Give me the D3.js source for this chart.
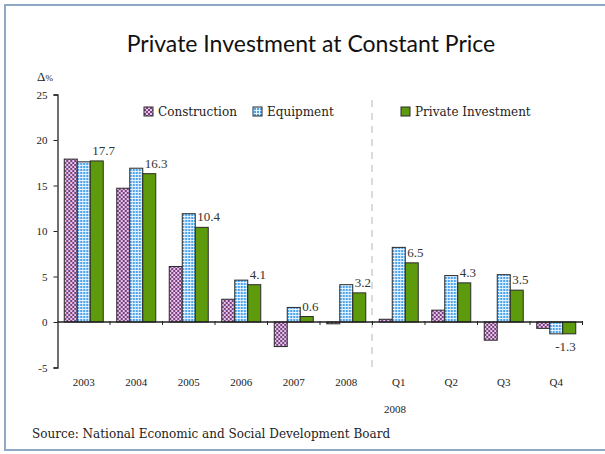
<!DOCTYPE html>
<html>
<head>
<meta charset="utf-8">
<script src="https://cdn.jsdelivr.net/npm/d3@7"></script>
<style>
  body { margin: 0; background: #fff; }
  svg { display: block; }
</style>
</head>
<body>
<svg id="chart" width="605" height="454"></svg>
<script>
// data
var categories = ["2003", "2004", "2005", "2006", "2007", "2008", "Q1", "Q2", "Q3", "Q4"];
var seriesNames = ["Construction", "Equipment", "Private Investment"];
var construction = [17.9, 14.7, 6.1, 2.5, -2.7, -0.2, 0.3, 1.3, -2.0, -0.7];
var equipment = [17.6, 16.9, 11.9, 4.6, 1.6, 4.1, 8.2, 5.1, 5.2, -1.3];
var privateInv = [17.7, 16.3, 10.4, 4.1, 0.6, 3.2, 6.5, 4.3, 3.5, -1.3];
var yTicks = [-5, 0, 5, 10, 15, 20, 25];

var svg = d3.select("svg#chart"),
    width = +svg.attr("width"),
    height = +svg.attr("height");

// plain hyphen for negatives, like the original
var fmt1 = v => v.toFixed(1);

// outer frame
svg.append("rect")
    .attr("x", 5).attr("y", 5)
    .attr("width", 610).attr("height", 445)
    .attr("fill", "#fff")
    .attr("stroke", "#8fa9c4")
    .attr("stroke-width", 2);

// patterns
var defs = svg.append("defs");
var pc = defs.append("pattern").attr("id", "patC")
    .attr("patternUnits", "userSpaceOnUse").attr("width", 4).attr("height", 4);
pc.append("rect").attr("width", 4).attr("height", 4).attr("fill", "#7a3f80");
pc.append("rect").attr("x", 0).attr("y", 0).attr("width", 2).attr("height", 2).attr("fill", "#e3c6e6");
pc.append("rect").attr("x", 2).attr("y", 2).attr("width", 2).attr("height", 2).attr("fill", "#e3c6e6");

var pe = defs.append("pattern").attr("id", "patE")
    .attr("patternUnits", "userSpaceOnUse").attr("width", 3).attr("height", 3);
pe.append("rect").attr("width", 3).attr("height", 3).attr("fill", "#4aa3ec");
pe.append("rect").attr("x", 0).attr("y", 0).attr("width", 3).attr("height", 1).attr("fill", "#e4f2fd");
pe.append("rect").attr("x", 0).attr("y", 0).attr("width", 1).attr("height", 3).attr("fill", "#e4f2fd");

var fills = ["url(#patC)", "url(#patE)", "#5d9a0c"];

// title
svg.append("text")
    .attr("x", 311).attr("y", 52)
    .attr("text-anchor", "middle")
    .style("font-family", "Lato, 'Open Sans', sans-serif")
    .style("font-size", "23px")
    .attr("fill", "#111")
    .text("Private Investment at Constant Price");

// scales
var x = d3.scaleBand()
    .domain(categories)
    .range([57.5, 582.5]);

var x1 = d3.scaleBand()
    .domain(seriesNames)
    .range([0, 39]);

var y = d3.scaleLinear()
    .domain([-5, 25])
    .range([367.5, 94.5]);

var groupOffset = (x.bandwidth() - 39) / 2;

// dashed divider between years and quarters
svg.append("line")
    .attr("x1", x("Q1") - 0.5).attr("x2", x("Q1") - 0.5)
    .attr("y1", 100).attr("y2", 368)
    .attr("stroke", "#c4c4c4")
    .attr("stroke-width", 1.2)
    .attr("stroke-dasharray", "7,6");

// y axis
var yAxis = svg.append("g")
    .attr("transform", "translate(57.5,0)")
    .call(d3.axisLeft(y).tickValues(yTicks).tickSize(4).tickPadding(6).tickFormat(d => String(d)));
yAxis.select(".domain").attr("stroke", "#222").attr("stroke-width", 1.3);
yAxis.selectAll(".tick line").attr("stroke", "#222");
yAxis.selectAll("text")
    .attr("fill", "#222")
    .style("font-family", "'Liberation Serif', serif")
    .style("font-size", "11px");

svg.append("text")
    .attr("x", 37).attr("y", 81)
    .style("font-family", "'Liberation Serif', serif")
    .attr("fill", "#222")
    .call(t => {
        t.append("tspan").style("font-size", "13px").text("Δ");
        t.append("tspan").style("font-size", "9px").text("%");
    });

// bars
var rows = categories.map((c, i) => ({
    cat: c,
    vals: [construction[i], equipment[i], privateInv[i]]
}));

var groups = svg.selectAll("g.grp")
    .data(rows)
    .enter()
    .append("g")
    .attr("class", "grp")
    .attr("transform", d => "translate(" + (x(d.cat) + groupOffset) + ",0)");

groups.selectAll("rect")
    .data(d => d.vals.map((v, j) => ({ name: seriesNames[j], v: v, j: j })))
    .enter()
    .append("rect")
    .attr("x", d => x1(d.name))
    .attr("y", d => y(Math.max(0, d.v)))
    .attr("width", x1.bandwidth())
    .attr("height", d => Math.abs(y(d.v) - y(0)))
    .attr("fill", d => fills[d.j])
    .attr("stroke", "#2a2a2a")
    .attr("stroke-width", 1);

// x axis line + ticks at band boundaries
svg.append("line")
    .attr("x1", 57.5).attr("x2", 582.5)
    .attr("y1", y(0)).attr("y2", y(0))
    .attr("stroke", "#222").attr("stroke-width", 1.3);

svg.selectAll("line.xt")
    .data(categories.slice(1).concat(["end"]))
    .enter()
    .append("line")
    .attr("class", "xt")
    .attr("x1", d => d === "end" ? 582.5 : x(d))
    .attr("x2", d => d === "end" ? 582.5 : x(d))
    .attr("y1", y(0) - 1).attr("y2", y(0) + 3)
    .attr("stroke", "#222");

svg.selectAll("text.xl")
    .data(categories)
    .enter()
    .append("text")
    .attr("class", "xl")
    .attr("x", d => x(d) + x.bandwidth() / 2)
    .attr("y", 386)
    .attr("text-anchor", "middle")
    .style("font-family", "'Liberation Serif', serif")
    .style("font-size", "11px")
    .attr("fill", "#222")
    .text(d => d);

svg.append("text")
    .attr("x", 395).attr("y", 413)
    .attr("text-anchor", "middle")
    .style("font-family", "'Liberation Serif', serif")
    .style("font-size", "11px")
    .attr("fill", "#222")
    .text("2008");

// value labels for private investment
var greenLeft = d => x(d.cat) + groupOffset + x1("Private Investment");
svg.selectAll("text.val")
    .data(rows)
    .enter()
    .append("text")
    .attr("class", "val")
    .attr("x", d => d.vals[2] >= 0 ? greenLeft(d) + 2 : greenLeft(d) + x1.bandwidth())
    .attr("y", d => d.vals[2] >= 0 ? y(d.vals[2]) - 6 : y(d.vals[2]) + 17)
    .attr("text-anchor", d => d.vals[2] >= 0 ? "start" : "end")
    .style("font-family", "'Liberation Serif', serif")
    .style("font-size", "13px")
    .attr("fill", "#333")
    .text(d => fmt1(d.vals[2]));

// legend
var legendX = [144, 253, 401];
var leg = svg.selectAll("g.leg")
    .data(seriesNames)
    .enter()
    .append("g")
    .attr("class", "leg")
    .attr("transform", (d, i) => "translate(" + legendX[i] + ",107)");
leg.append("rect")
    .attr("width", 9).attr("height", 9)
    .attr("fill", (d, i) => fills[i])
    .attr("stroke", "#2a2a2a");
leg.append("text")
    .attr("x", 14).attr("y", 9)
    .style("font-family", "'DejaVu Serif', serif")
    .style("font-size", "12px")
    .attr("fill", "#222")
    .text(d => d);

// source
svg.append("text")
    .attr("x", 32).attr("y", 438)
    .style("font-family", "'DejaVu Serif', serif")
    .style("font-size", "12px")
    .attr("fill", "#222")
    .text("Source:  National Economic and Social Development Board");
</script>
</body>
</html>
